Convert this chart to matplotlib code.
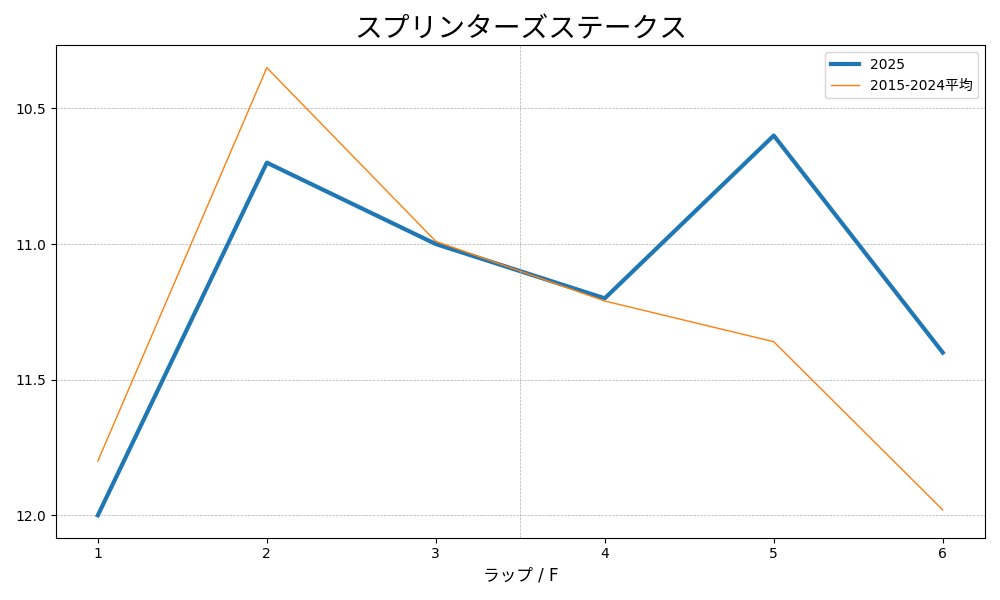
import matplotlib
matplotlib.use("Agg")
from matplotlib import pyplot as plt

plt.rcParams['font.family'] = ['DejaVu Sans', 'Noto Sans CJK JP']

laps = [1, 2, 3, 4, 5, 6]
lap_2025 = [12.0, 10.7, 11.0, 11.2, 10.6, 11.4]
lap_avg = [11.8, 10.35, 10.99, 11.21, 11.36, 11.98]
yticks = [10.5, 11.0, 11.5, 12.0]

fig, ax = plt.subplots(figsize=(10, 6), dpi=100)
ax.plot(laps, lap_2025, lw=3, color='#1f77b4', label='2025')
ax.plot(laps, lap_avg, lw=1, color='#ff7f0e', label='2015-2024平均')
ax.invert_yaxis()
ax.set_xticks(laps)
ax.set_yticks(yticks)
ax.grid(axis='y', ls='--', lw=0.5, color='#b0b0b0')
ax.axvline(3.5, ls='--', lw=0.5, color='#b0b0b0')
ax.set_title('スプリンターズステークス', fontsize=20)
ax.set_xlabel('ラップ / F', fontsize=12)
ax.legend(loc='upper right')
fig.tight_layout()
fig.savefig('out.png')
